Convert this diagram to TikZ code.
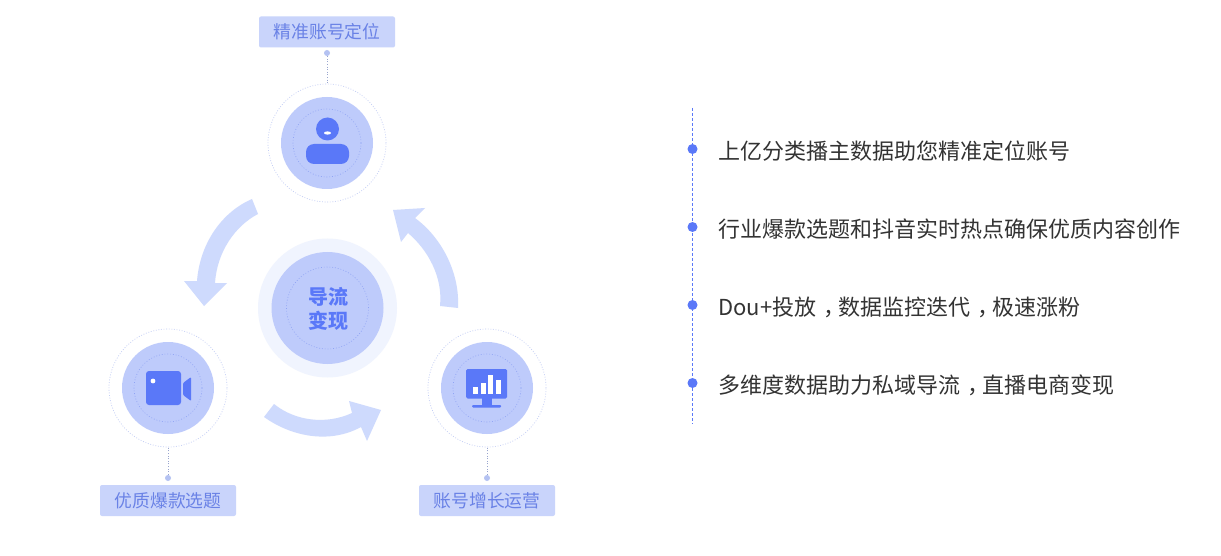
\documentclass[tikz,border=0pt]{standalone}
\usepackage{fontspec}
\setmainfont{Noto Sans CJK SC}
\definecolor{discblue}{HTML}{BECBFB}
\definecolor{paleblue}{HTML}{F0F4FE}
\definecolor{arrowblue}{HTML}{CEDAFD}
\definecolor{tagblue}{HTML}{C9D4FB}
\definecolor{iconblue}{HTML}{5A78F8}
\definecolor{tagtext}{HTML}{6A82E6}
\definecolor{dotline}{HTML}{B4C2F2}
\newcommand{\widecomma}{\kern7pt\char"FF0C\kern-7pt\relax}
\tikzstyle{disc}=[shape=circle,fill=discblue,minimum size=92pt,inner sep=0pt]
\tikzstyle{halo}=[shape=circle,draw=dotline!80,dash pattern=on 0.9pt off 1.7pt,line width=0.7pt,minimum size=118pt,inner sep=0pt]
\tikzstyle{ringin}=[shape=circle,draw=dotline!60!iconblue,dash pattern=on 0.9pt off 1.9pt,line width=0.6pt,minimum size=68pt,inner sep=0pt]
\tikzstyle{tag}=[shape=rectangle,fill=tagblue,rounded corners=2pt,minimum width=136pt,minimum height=31pt,inner sep=0pt,text=tagtext,font=\fontsize{17.8pt}{20pt}\selectfont]
\tikzstyle{pin}=[shape=circle,fill=dotline,minimum size=6pt,inner sep=0pt]
\tikzstyle{leader}=[draw=dotline!85!black,dash pattern=on 1pt off 1.6pt,line width=0.7pt]
\tikzstyle{bigarrow}=[fill=arrowblue]
\tikzstyle{icon}=[fill=iconblue]
\tikzstyle{bullet}=[shape=circle,fill=iconblue,minimum size=10pt,inner sep=0pt]
\tikzstyle{item}=[anchor=west,inner sep=0pt,text=black!80,font=\fontsize{22pt}{26pt}\selectfont]
\begin{document}
\begin{tikzpicture}[x=1pt,y=-1pt]
\useasboundingbox[fill=white] (0,0) rectangle (1221,556);
% centre
\node[shape=circle,fill=paleblue,minimum size=139pt,inner sep=0pt] (hubring) at (327.5,308) {};
\node[shape=circle,fill=discblue,minimum size=112pt,inner sep=0pt] (hub) at (327.5,308) {};
\node[ringin,minimum size=82pt] (hubin) at (327.5,308) {};
\node[align=center,inner sep=0pt,text=iconblue,font=\fontsize{20pt}{23.5pt}\selectfont\bfseries] (hubtext) at (328,309) {导流\\变现};
% top
\node[halo] (top) at (327,143) {};
\node[disc] (topdisc) at (327,143) {};
\node[ringin] (topin) at (327,143) {};
\node[tag] (toptag) at (327,32) {精准账号定位};
\node[pin] (toppin) at (327,53) {};
\draw[leader] (toppin) -- (top);
% left
\node[halo] (left) at (168,388) {};
\node[disc] (leftdisc) at (168,388) {};
\node[ringin] (leftin) at (168,388) {};
\node[tag] (lefttag) at (168,500.5) {优质爆款选题};
\node[pin] (leftpin) at (168,478) {};
\draw[leader] (leftpin) -- (left);
% right
\node[halo] (right) at (487,388) {};
\node[disc] (rightdisc) at (487,388) {};
\node[ringin] (rightin) at (487,388) {};
\node[tag] (righttag) at (487,500.5) {账号增长运营};
\node[pin] (rightpin) at (487,478) {};
\draw[leader] (rightpin) -- (right);
% person icon
\fill[icon] (327.5,129) circle (11.5);
\fill[white] (327.5,133) ellipse (3.5 and 1.6);
\fill[icon,rounded corners=8pt] (306,144) rectangle (349,164);
% camera icon
\fill[icon,rounded corners=3pt] (146,371) rectangle (181,405);
\fill[white] (153,381) circle (2.4);
\fill[icon,rounded corners=1pt] (183,383) -- (191,377) -- (191,401) -- (183,395) -- cycle;
% monitor icon
\fill[icon,rounded corners=1.5pt] (466,369) rectangle (507,398.5);
\fill[icon] (481.5,398) rectangle (491.5,405);
\fill[icon,rounded corners=1pt] (472,405) rectangle (501,407.5);
\fill[white] (473,387) rectangle (478,393.5);
\fill[white] (481,383) rectangle (486,393.5);
\fill[white] (488,375) rectangle (493,393.5);
\fill[white] (495.5,380) rectangle (500.5,393.5);
% arrows
\fill[bigarrow] (252,199) .. controls (222,212) and (200,243) .. (197,281)
    -- (184,281) -- (204,306) -- (227,283) -- (215,283)
    .. controls (217,252) and (235,226) .. (258,214) -- cycle;
\fill[bigarrow] (458,308) .. controls (460,272) and (441,237) .. (415,218)
    -- (425,208) -- (393,210) -- (401,242) -- (408,233)
    .. controls (428,250) and (443,277) .. (440,306) -- cycle;
\fill[bigarrow] (264,417) .. controls (292,437) and (330,444) .. (361,427)
    -- (367,441) -- (381,410) -- (349,401) -- (352,413)
    .. controls (326,425) and (295,421) .. (274,404) -- cycle;
% list
\coordinate (railtop) at (692,108);
\coordinate (railend) at (692,424);
\draw[iconblue,line width=0.8pt,dash pattern=on 3pt off 2pt] (railtop) -- (railend);
\node[bullet] (b1) at (692.5,149) {};
\node[bullet] (b2) at (692.5,227) {};
\node[bullet] (b3) at (692.5,305) {};
\node[bullet] (b4) at (692.5,383) {};
\node[item] (t1) at (718,151) {上亿分类播主数据助您精准定位账号};
\node[item] (t2) at (718,229) {行业爆款选题和抖音实时热点确保优质内容创作};
\node[item] (t3) at (718,307) {Dou+投放\widecomma 数据监控迭代\widecomma 极速涨粉};
\node[item] (t4) at (718,385) {多维度数据助力私域导流\widecomma 直播电商变现};
\end{tikzpicture}
\end{document}
